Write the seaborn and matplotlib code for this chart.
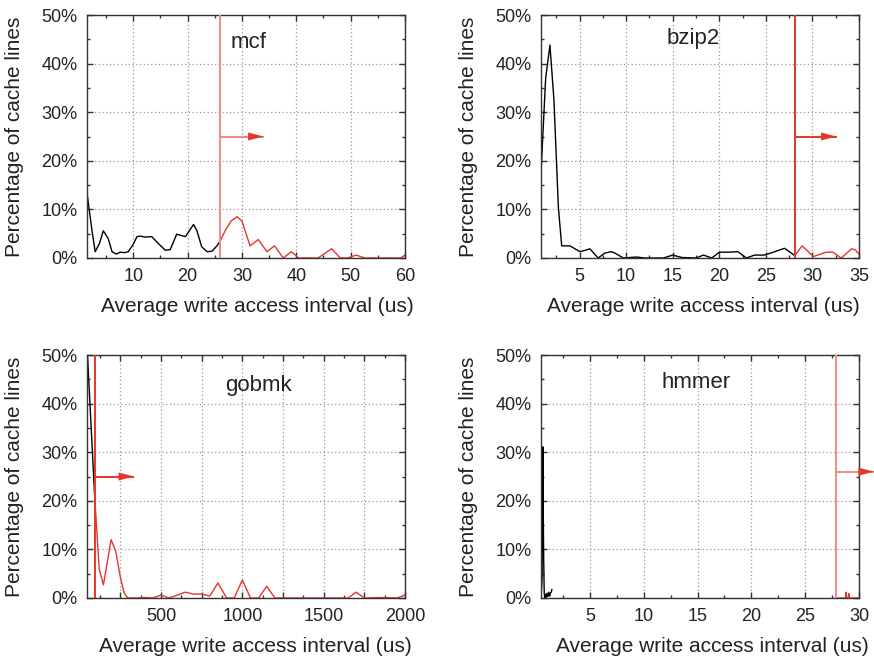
import matplotlib
matplotlib.use("Agg")
import matplotlib.pyplot as plt
import seaborn as sns
from matplotlib.ticker import MultipleLocator, FuncFormatter, FixedLocator

# ---------------- data ----------------
mcf_black_x = [1.5, 2.4, 3.0, 3.8, 4.5, 5.4, 6.1, 6.9, 7.6, 8.4, 9.1, 10.0, 10.7, 11.3, 12.2, 13.4,
               14.6, 15.9, 16.8, 18.0, 19.6, 21.1, 21.7, 22.6, 23.6, 24.5, 25.4, 26.0]
mcf_black_y = [13.4, 5.8, 1.3, 3.0, 5.6, 4.0, 1.3, 0.8, 1.2, 1.1, 1.3, 2.8, 4.4, 4.5, 4.3, 4.4,
               3.0, 1.6, 1.7, 4.9, 4.4, 6.9, 5.7, 2.3, 1.3, 1.4, 2.5, 3.5]
mcf_red_x = [26.0, 27.0, 28.0, 29.1, 30.0, 31.5, 33.0, 34.6, 36.0, 37.6, 39.1, 40.4, 42.0, 44.0,
             46.5, 48.1, 49.4, 51.0, 52.6, 55.0, 58.0, 59.2, 60.0]
mcf_red_y = [3.5, 5.8, 7.6, 8.5, 7.6, 2.5, 3.8, 1.3, 2.5, 0.0, 1.3, 0.0, 0.0, 0.0,
             1.9, 0.0, 0.0, 0.6, 0.0, 0.0, 0.0, 0.0, 0.6]

bzip2_black_x = [0.86, 1.36, 1.82, 2.25, 2.72, 3.08, 3.97, 5.04, 5.47, 6.1, 7.0, 7.7, 8.4, 8.8, 9.7,
                 11.1, 12.0, 14.0, 15.0, 16.0, 17.5, 18.3, 19.2, 20.0, 21.0, 22.0, 22.9, 23.8,
                 24.8, 25.5, 27.0, 28.1]
bzip2_black_y = [17.5, 37.0, 43.8, 32.5, 10.6, 2.5, 2.5, 1.3, 1.5, 1.9, 0.0, 1.0, 1.3, 1.0, 0.0,
                 0.2, 0.0, 0.0, 0.6, 0.1, 0.0, 0.6, 0.0, 1.2, 1.2, 1.3, 0.0, 0.6,
                 0.6, 1.0, 2.0, 0.5]
bzip2_red_x = [28.1, 28.9, 30.1, 31.5, 32.2, 33.1, 34.2, 34.6, 35.0]
bzip2_red_y = [0.5, 2.5, 0.3, 1.2, 1.2, 0.0, 1.9, 1.7, 0.8]

gobmk_black_x = [45, 92]
gobmk_black_y = [52.0, 21.0]
gobmk_red_x = [92, 120, 146, 193, 222, 249, 273, 295, 350, 400, 450, 500, 550, 600, 650, 700,
               750, 800, 850, 903, 950, 1000, 1050, 1100, 1150, 1200, 1250, 1650, 1700, 1750,
               1850, 1950, 2000]
gobmk_red_y = [21.0, 6.0, 2.7, 12.0, 9.6, 4.4, 1.1, 0.0, 0.0, 0.1, 0.0, 0.6, 0.0, 0.6, 1.2, 0.8,
               0.8, 0.4, 3.1, 0.0, 0.0, 3.7, 0.0, 0.0, 2.4, 0.0, 0.0, 0.0, 1.2, 0.0,
               0.1, 0.0, 0.6]

hmmer_black_x = [0.45, 0.55, 0.62, 0.66, 0.70, 0.75, 0.80, 0.88, 0.95, 1.02, 1.10, 1.18, 1.25,
                 1.32, 1.40, 1.47]
hmmer_black_y = [0.0, 4.0, 31.1, 18.0, 8.0, 1.0, 0.0, 0.8, 0.2, 1.0, 0.3, 1.2, 0.4, 1.0, 1.2, 1.8]
hmmer_red_x = [28.0, 28.75, 28.8, 28.85, 29.0, 29.05, 29.1, 30.0]
hmmer_red_y = [0.0, 0.0, 1.2, 0.0, 0.0, 0.9, 0.0, 0.0]

names = ["mcf", "bzip2", "gobmk", "hmmer"]
thresholds = [26.0, 28.1, 94.0, 27.9]
arrow_ends = [34.0, 32.6, 335.0, 31.4]
arrow_level = [25.0, 25.0, 25.0, 26.0]
label_pos = [(31.2, 44.4), (17.2, 45.2), (1102, 43.8), (14.9, 44.4)]
xlims = [(1.5, 60), (0.86, 35), (45, 2000), (0.45, 30)]
xtick_vals = [[10, 20, 30, 40, 50, 60], [5, 10, 15, 20, 25, 30, 35],
              [250, 500, 750, 1000, 1250, 1500, 1750, 2000], [5, 10, 15, 20, 25, 30]]
xtick_labels = [["10", "20", "30", "40", "50", "60"], ["5", "10", "15", "20", "25", "30", "35"],
                ["", "500", "", "1000", "", "1500", "", "2000"], ["5", "10", "15", "20", "25", "30"]]
xminor = [5, 2.5, 125, 2.5]

black_series = [(mcf_black_x, mcf_black_y), (bzip2_black_x, bzip2_black_y),
                (gobmk_black_x, gobmk_black_y), (hmmer_black_x, hmmer_black_y)]
red_series = [(mcf_red_x, mcf_red_y), (bzip2_red_x, bzip2_red_y),
              (gobmk_red_x, gobmk_red_y), (hmmer_red_x, hmmer_red_y)]

# ---------------- style ----------------
sns.set_style("ticks")
plt.rcParams["font.family"] = ["Liberation Sans", "DejaVu Sans"]

RED = "#e2372c"
LIGHT_RED = "#f08a88"
vline_colors = [LIGHT_RED, RED, RED, LIGHT_RED]
TXT = "#222222"

W, H = 874, 661
rects = [(87, 15, 405, 258), (541, 15, 859, 258), (87, 355, 405, 598), (541, 355, 859, 598)]
xlabel_x = [0.535, 0.51, 0.528, 0.538]

fig = plt.figure(figsize=(W / 100, H / 100), dpi=100)

for i in range(4):
    l, t, r, b = rects[i]
    ax = fig.add_axes([l / W, (H - b) / H, (r - l) / W, (b - t) / H])
    bx, by = black_series[i]
    rx, ry = red_series[i]
    sns.lineplot(x=bx, y=by, ax=ax, color="black", lw=1.0, sort=False, estimator=None)
    sns.lineplot(x=rx, y=ry, ax=ax, color=RED, lw=1.0, sort=False, estimator=None)

    ax.axvline(thresholds[i], color=vline_colors[i], lw=1.4, zorder=3)
    # arrow shaft (in the threshold line colour) and a solid red narrow head
    ax.plot([thresholds[i], arrow_ends[i]], [arrow_level[i], arrow_level[i]],
            color=vline_colors[i], lw=1.4, clip_on=False, zorder=4, solid_capstyle="butt")
    span = arrow_ends[i] - thresholds[i]
    ax.annotate("", xy=(arrow_ends[i], arrow_level[i]),
                xytext=(arrow_ends[i] - 0.45 * span, arrow_level[i]),
                arrowprops=dict(arrowstyle="-|>,head_length=0.55,head_width=0.14",
                                color=RED, lw=0.1, shrinkA=0, shrinkB=0, mutation_scale=20),
                annotation_clip=False, zorder=5)
    ax.text(label_pos[i][0], label_pos[i][1], names[i], ha="center", va="center",
            fontsize=16, color=TXT)

    ax.set_xlim(*xlims[i])
    ax.set_ylim(0, 50)
    ax.xaxis.set_major_locator(FixedLocator(xtick_vals[i]))
    ax.set_xticklabels(xtick_labels[i])
    ax.xaxis.set_minor_locator(MultipleLocator(xminor[i]))
    ax.yaxis.set_major_locator(MultipleLocator(10))
    ax.yaxis.set_minor_locator(MultipleLocator(5))
    ax.yaxis.set_major_formatter(FuncFormatter(lambda v, _: f"{v:.0f}%"))
    ax.grid(True, which="major", color="#9a9a9a", linestyle=(0, (1, 2)), lw=0.9)
    ax.tick_params(which="both", direction="in", top=True, right=True, colors="#333333",
                   labelcolor=TXT)
    ax.tick_params(which="major", length=4, width=1, labelsize=13, pad=7)
    ax.tick_params(which="minor", length=2.5, width=1)
    for s in ax.spines.values():
        s.set_color("#333333")
        s.set_linewidth(1.0)
    ax.set_xlabel("Average write access interval (us)", fontsize=15, color=TXT, labelpad=9)
    ax.set_ylabel("Percentage of cache lines", fontsize=15, color=TXT, labelpad=12)
    ax.xaxis.label.set_x(xlabel_x[i])

fig.savefig("out.png", dpi=100)
